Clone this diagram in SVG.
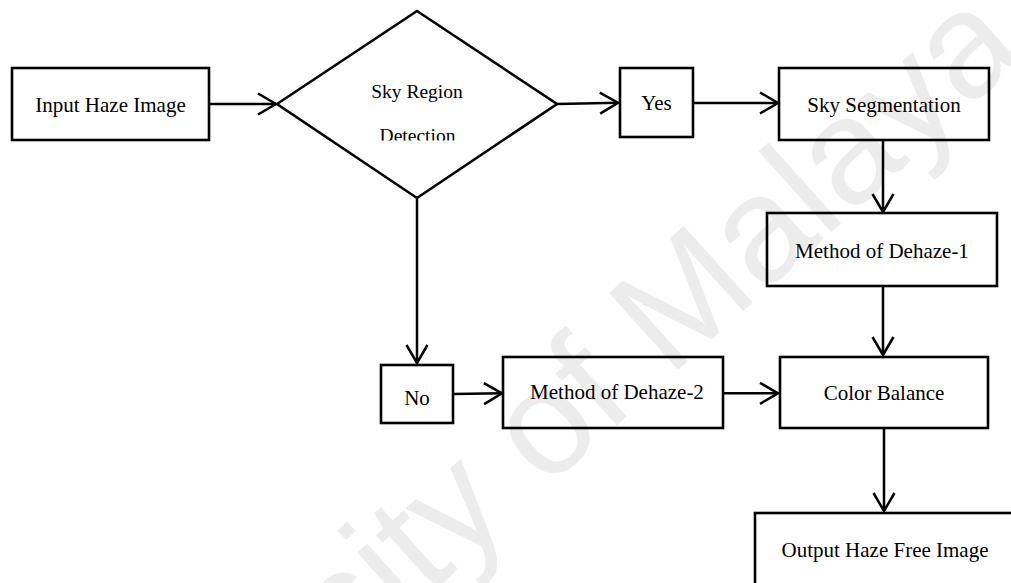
<svg xmlns="http://www.w3.org/2000/svg" width="1011" height="583" viewBox="0 0 1011 583">
  <style>
    .box { fill: none; stroke: #000; stroke-width: 2.6; }
    .lbl { font-family: "Liberation Serif", "Times New Roman", serif; font-size: 21px; fill: #000; text-anchor: middle; }
    .lbl-sm { font-size: 19.5px; }
    .edge { fill: none; stroke: #000; stroke-width: 2.5; marker-end: url(#arr); }
    .wm { font-family: "Liberation Sans", Arial, sans-serif; font-size: 150px; fill: #ececec; }
  </style>
  <defs>
    <marker id="arr" markerUnits="userSpaceOnUse" markerWidth="26" markerHeight="28" viewBox="0 0 26 28" refX="21" refY="14" orient="auto" overflow="visible">
      <path d="M3,3.5 L21,14 L3,24.5" fill="none" stroke="#000" stroke-width="2.5"/>
    </marker>
    <clipPath id="diamond-text">
      <rect x="300" y="60" width="240" height="80.5"/>
    </clipPath>
  </defs>

  <rect width="1011" height="583" fill="#fff"/>

  <!-- background watermark -->
  <text class="wm" x="0" y="0" transform="rotate(-2 960 60) translate(-6,925) rotate(-40)">University of Malaya</text>

  <g id="connectors">
    <path class="edge" d="M209,104 L276,104"/>
    <path class="edge" d="M557,104 L618,102.7"/>
    <path class="edge" d="M693,103 L778,103"/>
    <path class="edge" d="M883,140 L883,212"/>
    <path class="edge" d="M883,286 L883,355"/>
    <path class="edge" d="M417,198 L417,363"/>
    <path class="edge" d="M453,394 L502,393.3"/>
    <path class="edge" d="M723,393.3 L778,393.3"/>
    <path class="edge" d="M884,428 L884,511"/>
  </g>

  <g id="input">
    <rect class="box" x="12" y="68" width="197" height="72"/>
    <text class="lbl" x="110.5" y="112">Input Haze Image</text>
  </g>

  <g id="sky-detection">
    <polygon class="box" points="277,104 417,11 557,104 417,198"/>
    <text class="lbl lbl-sm" x="417" y="98">Sky Region</text>
    <text class="lbl lbl-sm" x="417.5" y="142" clip-path="url(#diamond-text)">Detection</text>
  </g>

  <g id="yes">
    <rect class="box" x="620" y="68" width="73" height="69"/>
    <text class="lbl" x="656.5" y="110">Yes</text>
  </g>

  <g id="sky-segmentation">
    <rect class="box" x="779" y="68" width="210" height="72"/>
    <text class="lbl" x="884" y="112">Sky Segmentation</text>
  </g>

  <g id="dehaze-1">
    <rect class="box" x="767" y="213" width="230" height="73"/>
    <text class="lbl" x="882" y="258">Method of Dehaze-1</text>
  </g>

  <g id="no">
    <rect class="box" x="381" y="365" width="72" height="58"/>
    <text class="lbl" x="417" y="405">No</text>
  </g>

  <g id="dehaze-2">
    <rect class="box" x="503" y="357" width="220" height="71"/>
    <text class="lbl" x="617" y="399">Method of Dehaze-2</text>
  </g>

  <g id="color-balance">
    <rect class="box" x="780" y="357" width="208" height="71"/>
    <text class="lbl" x="884" y="400">Color Balance</text>
  </g>

  <g id="output">
    <rect class="box" x="755" y="513" width="270" height="100"/>
    <text class="lbl" x="885" y="557">Output Haze Free Image</text>
  </g>
</svg>
